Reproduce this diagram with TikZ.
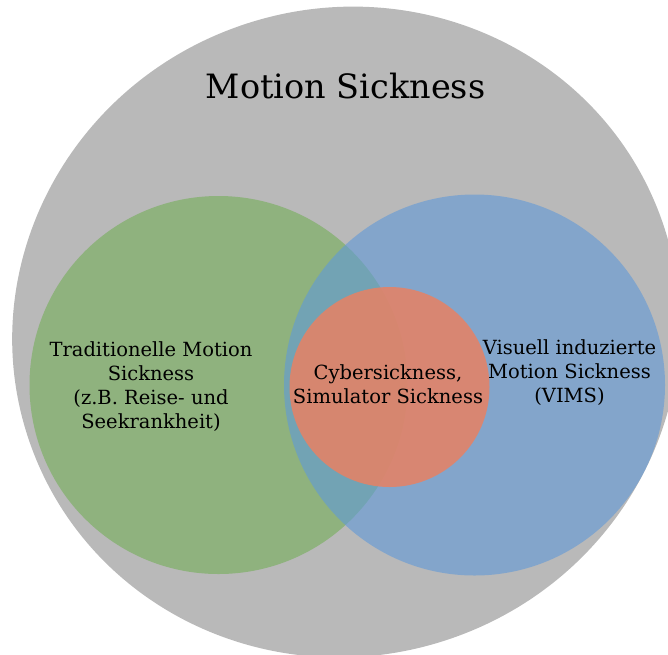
\documentclass[tikz,border=0pt]{standalone}
\usepackage{fontspec}
\setmainfont{DejaVu Serif}
\definecolor{bggray}{RGB}{185,185,185}
\definecolor{tmgreen}{RGB}{143,178,126}
\definecolor{vimsblue}{RGB}{96,153,216}
\definecolor{cyberred}{RGB}{232,129,99}
\tikzset{
  vennlabel/.style={align=center, text=black, inner sep=0pt, font=\fontsize{19.5}{24}\selectfont},
}
\begin{document}
\begin{tikzpicture}[x=1pt,y=-1pt]
\useasboundingbox (0,0) rectangle (668,654);
\begin{scope}
\clip (0,0) rectangle (668,654);
\fill[bggray, rotate around={20:(346,332)}] (346,332) ellipse[x radius=335, y radius=324];
\fill[tmgreen] (218.5,385) circle[radius=189];
\fill[vimsblue, opacity=0.6] (474.5,385) circle[radius=190.5];
\fill[cyberred, opacity=0.85] (389.5,387) circle[radius=100];
\end{scope}
\node[inner sep=0pt, font=\fontsize{33.5}{40}\selectfont] (title) at (345.5,86) {Motion Sickness};
\node[vennlabel] (trad) at (151,386.5) {Traditionelle Motion\\Sickness\\(z.B. Reise- und\\Seekrankheit)};
\node[vennlabel] (cyber) at (388,384) {Cybersickness,\\Simulator Sickness};
\node[vennlabel] (vims) at (569.5,373) {Visuell induzierte\\Motion Sickness\\(VIMS)};
\end{tikzpicture}
\end{document}
